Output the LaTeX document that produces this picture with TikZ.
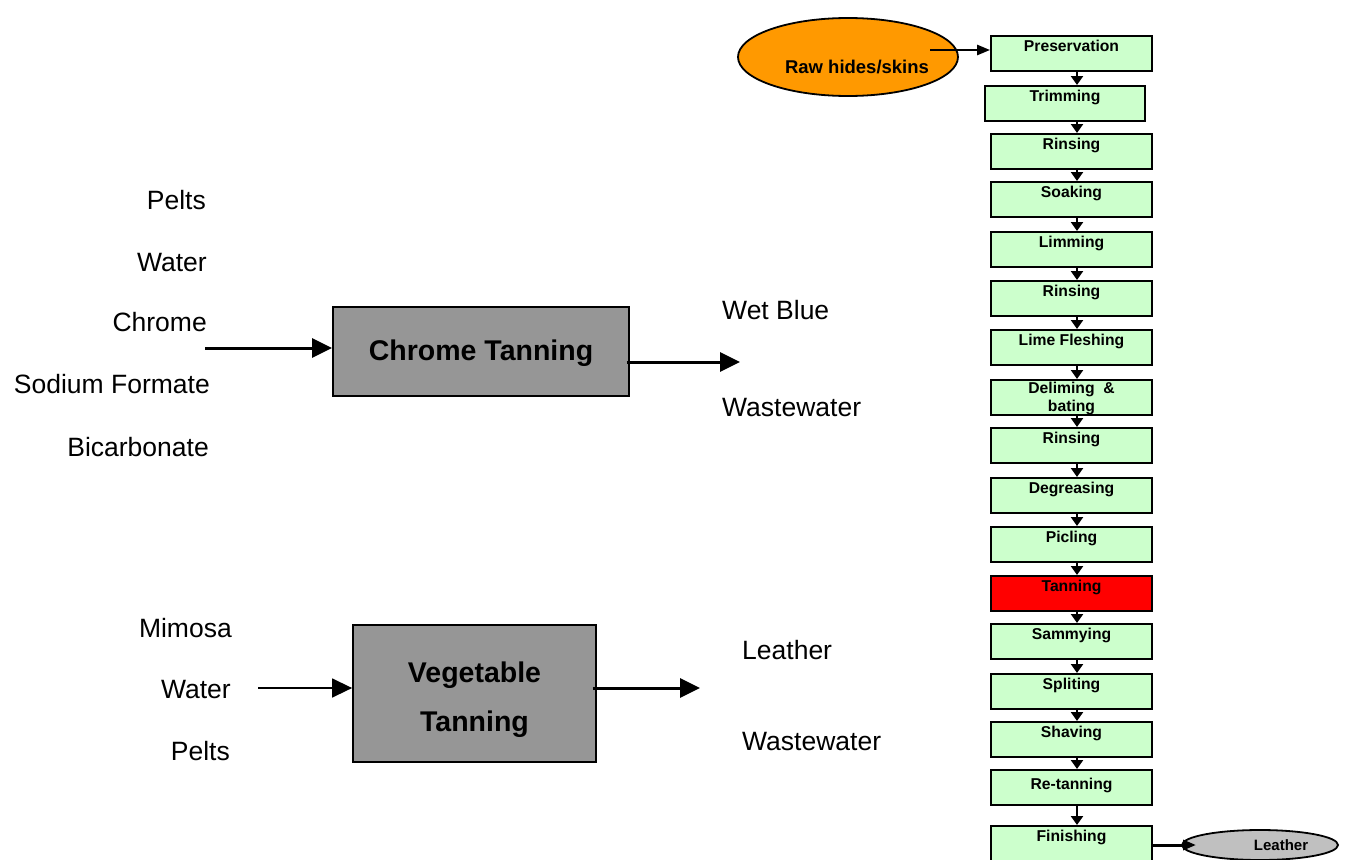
\documentclass[tikz,border=0pt]{standalone}
\usepackage{fontspec}
\setmainfont{Liberation Sans}
\usetikzlibrary{arrows.meta,shapes.geometric}

\definecolor{stepgreen}{HTML}{CCFFCC}
\definecolor{tanred}{HTML}{FF0000}
\definecolor{hideorange}{HTML}{FF9900}
\definecolor{procgray}{HTML}{969696}
\definecolor{leathergray}{HTML}{C0C0C0}

\tikzset{
  stepbox/.style={draw=black, line width=1.8, fill=stepgreen, anchor=north,
    minimum width=161, inner xsep=0, inner ysep=0, text height=16, text depth=19,
    font=\fontsize{15.7}{17}\selectfont\bfseries},
  lbl/.style={inner sep=0, font=\fontsize{26.5}{30}\selectfont},
  procbox/.style={draw=black, line width=1.8, fill=procgray, inner xsep=0, inner ysep=0,
    font=\fontsize{28.5}{49}\selectfont\bfseries},
  bigarr/.style={line width=3, -{Triangle[length=20,width=19]}},
  thinarr/.style={line width=1.5, -{Triangle[length=20,width=19]}},
  medarr/.style={line width=2.5, -{Triangle[length=13,width=10]}},
  smallarr/.style={line width=2.5, -{Triangle[length=9,width=12]}},
}

\begin{document}
\begin{tikzpicture}[x=1pt, y=-1pt]
\useasboundingbox (0,0) rectangle (1348,859);
\clip (0,0) rectangle (1348,859);

% ---------- chrome tanning ----------
\node[lbl, anchor=base east] (c1) at (206,209.5) {Pelts};
\node[lbl, anchor=base east] (c2) at (207,271.5) {Water};
\node[lbl, anchor=base east] (c3) at (207,331.5) {Chrome};
\node[lbl, anchor=base east] (c4) at (210,393.5) {Sodium Formate};
\node[lbl, anchor=base east] (c5) at (209,456.5) {Bicarbonate};

\node[procbox, minimum width=296, text height=53, text depth=36] (chrome) at (481,351.5) {Chrome Tanning};

\node[lbl, anchor=base west] (wetblue) at (722,319.5) {Wet Blue};
\node[lbl, anchor=base west] (cww) at (722,416.5) {Wastewater};

\coordinate (cin) at (205,348);
\draw[bigarr] (cin) -- (cin -| chrome.west);
\coordinate (cout) at (740,362);
\draw[bigarr] ([xshift=-3]cout -| chrome.east) -- (cout);

% ---------- vegetable tanning ----------
\node[lbl, anchor=base east] (v1) at (232,637.5) {Mimosa};
\node[lbl, anchor=base east] (v2) at (231,698.5) {Water};
\node[lbl, anchor=base east] (v3) at (230,760.5) {Pelts};

\node[procbox, minimum width=243, text height=57, text depth=80] (veg) at (474.5,693.5)
  {\begin{tabular}[t]{@{}c@{}}Vegetable\\Tanning\end{tabular}};

\node[lbl, anchor=base west] (vleather) at (742,659.5) {Leather};
\node[lbl, anchor=base west] (vww) at (742,750.5) {Wastewater};

\coordinate (vin) at (258,688);
\draw[thinarr] (vin) -- (vin -| veg.west);
\coordinate (vout) at (700,688);
\draw[bigarr] ([xshift=-4]vout -| veg.east) -- (vout);

% ---------- leather making process ----------
\node[draw=black, line width=1.8, fill=hideorange, ellipse, minimum width=220, minimum height=78, inner sep=0] (raw) at (848,57) {};
\node[inner sep=0, anchor=base, font=\fontsize{18.5}{20}\selectfont\bfseries] (rawtxt) at (857,73.5) {Raw hides/skins};

\node[stepbox] (s1) at (1071.5,35) {Preservation};
\node[stepbox, minimum width=160] (s2) at (1065,85) {Trimming};
\node[stepbox] (s3) at (1071.5,133) {Rinsing};
\node[stepbox] (s4) at (1071.5,181) {Soaking};
\node[stepbox] (s5) at (1071.5,231) {Limming};
\node[stepbox] (s6) at (1071.5,280) {Rinsing};
\node[stepbox] (s7) at (1071.5,329) {Lime Fleshing};
\node[stepbox, text height=14, text depth=21] (s8) at (1071.5,379)
  {\begin{tabular}[t]{@{}c@{}}Deliming~~\&\\[1pt]bating\end{tabular}};
\node[stepbox] (s9) at (1071.5,427) {Rinsing};
\node[stepbox] (s10) at (1071.5,477) {Degreasing};
\node[stepbox] (s11) at (1071.5,526) {Picling};
\node[stepbox, fill=tanred] (s12) at (1071.5,575) {Tanning};
\node[stepbox] (s13) at (1071.5,623) {Sammying};
\node[stepbox] (s14) at (1071.5,673) {Spliting};
\node[stepbox] (s15) at (1071.5,721) {Shaving};
\node[stepbox, text height=20, text depth=15] (s16) at (1071.5,769) {Re-tanning};
\node[stepbox] (s17) at (1071.5,825) {Finishing};

\node[draw=black, line width=1.8, fill=leathergray, ellipse, minimum width=156, minimum height=30, inner sep=0] (leather) at (1260,845) {};
\node[inner sep=0, anchor=base, font=\fontsize{15}{17}\selectfont\bfseries] (leathertxt) at (1281,850.5) {Leather};

\coordinate (rawstart) at (930,50);
\draw[medarr] (rawstart) -- (rawstart -| s1.west);

\coordinate (colx) at (1077,0);
\foreach \a/\b in {s1/s2,s2/s3,s3/s4,s4/s5,s5/s6,s6/s7,s7/s8,s8/s9,s9/s10,s10/s11,s11/s12,s12/s13,s13/s14,s14/s15,s15/s16,s16/s17}
  \draw[smallarr] (\a.south -| colx) -- (\b.north -| colx);

\coordinate (lend) at (1196,845);
\draw[medarr, line width=3] (lend -| s17.east) -- (lend);
\end{tikzpicture}
\end{document}
